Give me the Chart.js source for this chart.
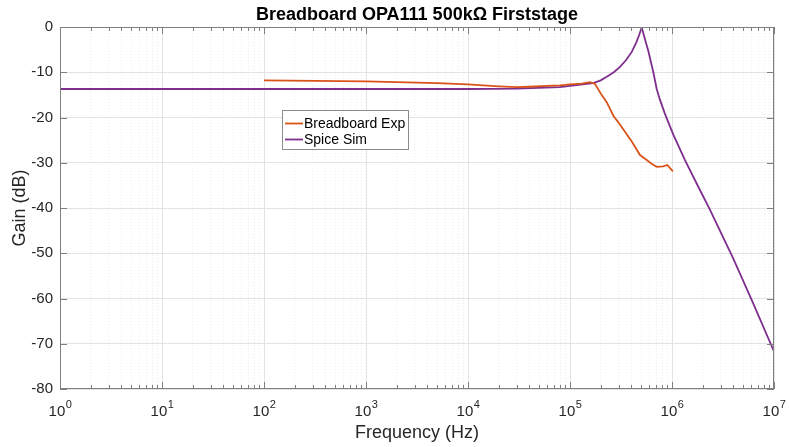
<!DOCTYPE html>
<html>
<head>
<meta charset="utf-8">
<script src="https://cdn.jsdelivr.net/npm/chart.js@4.4.0/dist/chart.umd.min.js"></script>
<style>
  html, body { margin: 0; padding: 0; background: #fff; }
  #wrap { width: 789px; height: 447px; }
</style>
</head>
<body>
<div id="wrap"><canvas id="myChart" width="789" height="447"></canvas></div>
<script>
// measured response, breadboard build
const expFreq = [100, 1000, 5000, 10000, 20000, 30000, 40000, 60000, 80000, 100000, 130000, 157000, 176000,
    204000, 229000, 266000, 310000, 403000, 486000, 565000, 630000, 708000, 820000, 900000, 1020000];
const expGain = [-11.8, -12.0, -12.4, -12.7, -13.1, -13.3, -13.2, -13.0, -12.9, -12.7, -12.5, -12.2, -12.6,
    -15.0, -16.6, -19.6, -21.6, -25.3, -28.3, -29.4, -30.2, -30.9, -30.8, -30.5, -31.9];

// spice simulation
const simFreq = [1, 10, 100, 1000, 10000, 30000, 79400, 100000, 169000, 200000, 229000, 269000, 309000,
    355000, 403000, 447000, 479000, 505000, 545000, 586000, 656000, 708000, 760000, 853000, 1030000,
    1340000, 1810000, 2360000, 2950000, 3990000, 6040000, 10000000];
const simGain = [-13.7, -13.7, -13.7, -13.7, -13.7, -13.6, -13.3, -13.0, -12.4, -11.8, -11.0, -10.0, -8.8,
    -7.3, -5.5, -3.4, -1.6, -0.1, -2.8, -5.3, -10.0, -13.7, -16.0, -19.2, -23.8,
    -29.4, -35.3, -40.4, -45.0, -51.2, -60.3, -71.7];

const xDecades = [0, 1, 2, 3, 4, 5, 6, 7];
const yTicks = [-80, -70, -60, -50, -40, -30, -20, -10, 0];

const titleText = 'Breadboard OPA111 500kΩ Firststage';
const legendLabels = ['Breadboard Exp', 'Spice Sim'];
const colors = ['#D95319', '#7E2F8E'];

const FONT = '"Liberation Sans", Arial, Helvetica, sans-serif';
const AXIS_GRAY = '#7f7f7f';
Chart.defaults.font.family = FONT;

// 1..9 per decade, plus the last decade
const xTickValues = [];
xDecades.forEach(d => {
    if (d === 7) { xTickValues.push(1e7); return; }
    for (let k = 1; k <= 9; k++) xTickValues.push(k * Math.pow(10, d));
});

function isDecade(v) {
    const l = Math.log10(v);
    return Math.abs(l - Math.round(l)) < 1e-9;
}

function toPoints(xs, ys) {
    return xs.map((x, i) => ({ x: x, y: ys[i] }));
}

// title, box, inward ticks, superscript labels and legend, MATLAB style
const decorations = {
    id: 'decorations',
    afterDraw(chart) {
        const ctx = chart.ctx;
        const a = chart.chartArea;
        const xs = chart.scales.x;
        const ys = chart.scales.y;
        ctx.save();

        // box
        ctx.strokeStyle = AXIS_GRAY;
        ctx.lineWidth = 1;
        ctx.strokeRect(a.left + 0.5, a.top + 0.5, a.right - a.left - 1, a.bottom - a.top - 1);

        // x ticks inside, top and bottom
        xTickValues.forEach(v => {
            const px = Math.round(xs.getPixelForValue(v)) + 0.5;
            const len = isDecade(v) ? 7 : 4;
            ctx.beginPath();
            ctx.moveTo(px, a.bottom);
            ctx.lineTo(px, a.bottom - len);
            ctx.moveTo(px, a.top);
            ctx.lineTo(px, a.top + len);
            ctx.stroke();
        });
        // y ticks inside, left and right
        yTicks.forEach(v => {
            const py = Math.round(ys.getPixelForValue(v)) + 0.5;
            ctx.beginPath();
            ctx.moveTo(a.left, py);
            ctx.lineTo(a.left + 7, py);
            ctx.moveTo(a.right, py);
            ctx.lineTo(a.right - 7, py);
            ctx.stroke();
        });

        // x labels as 10^n
        ctx.fillStyle = '#262626';
        ctx.textBaseline = 'alphabetic';
        xDecades.forEach(d => {
            const px = xs.getPixelForValue(Math.pow(10, d));
            ctx.font = '15px ' + FONT;
            const wBase = ctx.measureText('10').width;
            ctx.font = '11px ' + FONT;
            const wExp = ctx.measureText(String(d)).width;
            const x0 = px - (wBase + wExp) / 2;
            ctx.font = '15px ' + FONT;
            ctx.textAlign = 'left';
            ctx.fillText('10', x0, 416);
            ctx.font = '11px ' + FONT;
            ctx.fillText(String(d), x0 + wBase + 0.5, 408);
        });

        // title
        ctx.font = 'bold 18px ' + FONT;
        ctx.textAlign = 'center';
        ctx.fillStyle = '#000';
        ctx.fillText(titleText, (a.left + a.right) / 2, 20);

        // legend
        const lx = 282, ly = 110, lw = 126, lh = 39;
        ctx.fillStyle = '#fff';
        ctx.fillRect(lx, ly, lw, lh);
        ctx.strokeStyle = '#8c8c8c';
        ctx.strokeRect(lx + 0.5, ly + 0.5, lw, lh);
        ctx.font = '14px ' + FONT;
        ctx.textAlign = 'left';
        ctx.textBaseline = 'middle';
        legendLabels.forEach((label, i) => {
            const rowY = ly + 13.5 + i * 16;
            ctx.strokeStyle = colors[i];
            ctx.lineWidth = 1.8;
            ctx.beginPath();
            ctx.moveTo(lx + 3, rowY);
            ctx.lineTo(lx + 21, rowY);
            ctx.stroke();
            ctx.fillStyle = '#000';
            ctx.fillText(label, lx + 22, rowY + 0.5);
        });
        ctx.restore();
    }
};

const configuration = {
    type: 'line',
    data: {
        datasets: [{
            label: legendLabels[0],
            data: toPoints(expFreq, expGain),
            borderColor: colors[0],
            borderWidth: 1.8,
            pointRadius: 0,
            tension: 0,
            fill: false
        }, {
            label: legendLabels[1],
            data: toPoints(simFreq, simGain),
            borderColor: colors[1],
            borderWidth: 1.8,
            pointRadius: 0,
            tension: 0,
            fill: false
        }]
    },
    options: {
        responsive: false,
        animation: false,
        devicePixelRatio: 1,
        layout: { padding: { top: 27, right: 15, left: 0, bottom: 0 } },
        plugins: {
            legend: { display: false },
            title: { display: false },
            tooltip: { enabled: false }
        },
        scales: {
            x: {
                type: 'logarithmic',
                min: 1,
                max: 1e7,
                afterBuildTicks: (scale) => {
                    scale.ticks = xTickValues.map(v => ({ value: v, major: isDecade(v) }));
                },
                afterFit: (scale) => { scale.height = 58; },
                ticks: { display: false },
                grid: {
                    drawTicks: false,
                    color: (c) => (c.tick && isDecade(c.tick.value)) ? '#e3e3e3' : '#ececec',
                    lineWidth: 1
                },
                border: {
                    display: false,
                    dash: (c) => (c.tick && !isDecade(c.tick.value)) ? [1, 2] : []
                },
                title: {
                    display: true,
                    text: 'Frequency (Hz)',
                    color: '#262626',
                    font: { size: 18 },
                    padding: { top: 0, bottom: 3 }
                }
            },
            y: {
                min: -80,
                max: 0,
                afterFit: (scale) => { scale.width = 60; },
                ticks: {
                    stepSize: 10,
                    color: '#262626',
                    font: { size: 15 },
                    padding: 7
                },
                grid: { drawTicks: false, color: '#e3e3e3', lineWidth: 1 },
                border: { display: false },
                title: {
                    display: true,
                    text: 'Gain (dB)',
                    color: '#262626',
                    font: { size: 18 },
                    padding: { top: 9, bottom: 0 }
                }
            }
        }
    },
    plugins: [decorations]
};

new Chart(document.getElementById('myChart'), configuration);
</script>
</body>
</html>
